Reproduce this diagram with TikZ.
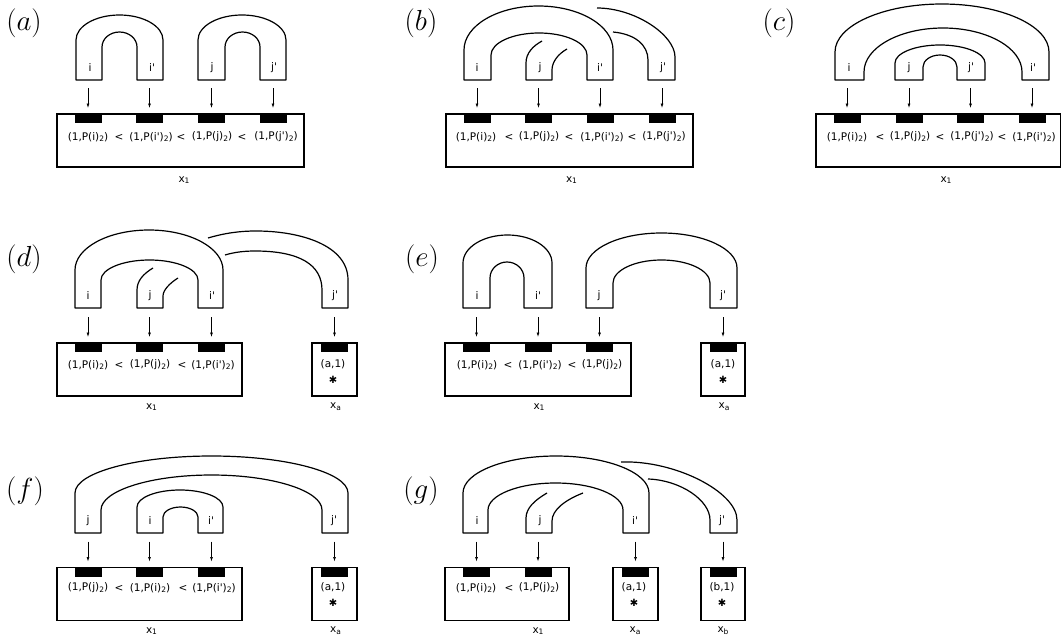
\RequirePackage{fix-cm}
\documentclass[tikz,border=0pt]{standalone}
\usepackage{fontspec}
\newfontfamily\dv{DejaVu Sans}
\usetikzlibrary{arrows.meta}
\def\bk{0.552}
% band: #1 Lo, #2 Li, #3 Ri, #4 Ro, #5 bottom, #6 outer straight top, #7 outer top, #8 inner straight top, #9 inner top
\newcommand\band[9]{%
  \pgfmathsetmacro\bMo{(#1+#4)/2}%
  \pgfmathsetmacro\bAo{(#4-#1)/2*\bk}%
  \pgfmathsetmacro\bBo{(#6-#7)*\bk}%
  \pgfmathsetmacro\bMi{(#2+#3)/2}%
  \pgfmathsetmacro\bAi{(#3-#2)/2*\bk}%
  \pgfmathsetmacro\bBi{(#8-#9)*\bk}%
  \path[bandst] (#1,#5) -- (#1,#6) .. controls (#1,#6-\bBo) and (\bMo-\bAo,#7) .. (\bMo,#7)
    .. controls (\bMo+\bAo,#7) and (#4,#6-\bBo) .. (#4,#6) -- (#4,#5) -- (#3,#5) -- (#3,#8)
    .. controls (#3,#8-\bBi) and (\bMi+\bAi,#9) .. (\bMi,#9)
    .. controls (\bMi-\bAi,#9) and (#2,#8-\bBi) .. (#2,#8) -- (#2,#5) -- cycle;}
\newcommand\subs[1]{\raisebox{-0.3ex}{\fontsize{7.5}{8}\selectfont #1}}
\newcommand\PP[1]{(1,P(#1)\subs{2})}
\begin{document}
\begin{tikzpicture}[x=1pt,y=-1pt,
  bandst/.style={draw=black, line width=1.2pt, fill=white, line join=round},
  strand/.style={draw=black, line width=1.2pt, line join=round},
  boxst/.style={draw=black, line width=1.3pt, inner sep=0pt, minimum height=53pt},
  slot/.style={fill=black, minimum width=27pt, minimum height=9pt, inner sep=0pt, anchor=north},
  arr/.style={-{Latex[length=4.5pt,width=3pt]}, line width=0.7pt},
  tl/.style={font={\dv\fontsize{10.5}{12}\selectfont}, inner sep=0pt},
  star/.style={font={\dv\fontsize{10}{11}\selectfont}, inner sep=0pt},
  plab/.style={font={\fontsize{29}{33}\selectfont}, anchor=base, inner sep=0pt}]
\useasboundingbox (0,0) rectangle (1062,642);

%% ---------------- (a)
\node[plab] (la) at (24,31) {$(a)$};
\band{76}{102}{137}{163}{80}{40}{15}{47}{32}
\band{198}{225}{260}{286}{80}{40}{15}{47}{32}
\node[tl] (a-i) at (90,68) {i};
\node[tl] (a-ip) at (152,68) {i'};
\node[tl] (a-j) at (212,68) {j};
\node[tl] (a-jp) at (274,68) {j'};
\node[boxst, minimum width=247pt] (aB) at (180.5,140.5) {};
\node[slot] (as1) at (88,114) {};
\node[slot] (as2) at (149.5,114) {};
\node[slot] (as3) at (211.5,114) {};
\node[slot] (as4) at (273,114) {};
\foreach \s in {as1,as2,as3,as4} \draw[arr] ([yshift=26pt]\s.north) -- ([yshift=6pt]\s.north);
\node[tl] (at1) at (88,137) {\PP{i}};
\node[tl] (ac1) at (119,137) {<};
\node[tl] (at2) at (151,137) {\PP{i'}};
\node[tl] (ac2) at (181,137) {<};
\node[tl] (at3) at (212,137) {\PP{j}};
\node[tl] (ac3) at (242,137) {<};
\node[tl] (at4) at (276,137) {\PP{j'}};
\node[tl] (ax) at (184,180) {x\subs{1}};

%% ---------------- (b)
\node[plab] (lb) at (421,31) {$(b)$};
\band{464}{491}{587}{613}{80}{50}{6}{55}{33}
\draw[strand] (542,41) .. controls (533,46) and (526,53) .. (526,63) -- (526,80) -- (552,80) -- (552,70) .. controls (552,62) and (558,54) .. (567,49);
\draw[strand] (597,8) .. controls (635,8) and (675,35) .. (675,57) -- (675,80) -- (648,80) -- (648,60) .. controls (648,45) and (635,34) .. (613,32);
\node[tl] (b-i) at (477,68) {i};
\node[tl] (b-j) at (540,68) {j};
\node[tl] (b-ip) at (600,68) {i'};
\node[tl] (b-jp) at (663,68) {j'};
\node[boxst, minimum width=247pt] (bB) at (569.5,140.5) {};
\node[slot] (bs1) at (477,114) {};
\node[slot] (bs2) at (538.5,114) {};
\node[slot] (bs3) at (600,114) {};
\node[slot] (bs4) at (662,114) {};
\foreach \s in {bs1,bs2,bs3,bs4} \draw[arr] ([yshift=26pt]\s.north) -- ([yshift=6pt]\s.north);
\node[tl] (bt1) at (476,137) {\PP{i}};
\node[tl] (bc1) at (509,137) {<};
\node[tl] (bt2) at (539,137) {\PP{j}};
\node[tl] (bc2) at (569,137) {<};
\node[tl] (bt3) at (602,137) {\PP{i'}};
\node[tl] (bc3) at (632,137) {<};
\node[tl] (bt4) at (664,137) {\PP{j'}};
\node[tl] (bx) at (571.5,180) {x\subs{1}};

%% ---------------- (c)
\node[plab] (lc) at (779,31) {$(c)$};
\band{835}{864}{1022}{1049}{80}{52}{4}{72}{28}
\band{895}{923}{957}{985}{80}{63}{45}{67}{55}
\node[tl] (c-i) at (849,68) {i};
\node[tl] (c-j) at (909,68) {j};
\node[tl] (c-jp) at (971,68) {j'};
\node[tl] (c-ip) at (1033,68) {i'};
\node[boxst, minimum width=244.5pt] (cB) at (938.25,140.5) {};
\node[slot] (cs1) at (847,114) {};
\node[slot] (cs2) at (909,114) {};
\node[slot] (cs3) at (970.5,114) {};
\node[slot] (cs4) at (1032,114) {};
\foreach \s in {cs1,cs2,cs3,cs4} \draw[arr] ([yshift=26pt]\s.north) -- ([yshift=6pt]\s.north);
\node[tl] (ct1) at (847,137) {\PP{i}};
\node[tl] (cc1) at (880,137) {<};
\node[tl] (ct2) at (910,137) {\PP{j}};
\node[tl] (cc2) at (940,137) {<};
\node[tl] (ct3) at (972,137) {\PP{j'}};
\node[tl] (cc3) at (1002,137) {<};
\node[tl] (ct4) at (1034,137) {\PP{i'}};
\node[tl] (cx) at (946,180) {x\subs{1}};

%% ---------------- (d)
\node[plab] (ld) at (24,266) {$(d)$};
\band{75}{101}{198}{223}{308}{270}{230}{280}{260}
\draw[strand] (153,268) .. controls (143,274) and (137,281) .. (137,290) -- (137,308) -- (163,308) -- (163,296) .. controls (163,290) and (170,283) .. (178,278);
\draw[strand] (208,238) .. controls (225,233) and (240,231) .. (256,231) .. controls (300,231) and (348,245) .. (348,280) -- (348,308) -- (322,308) -- (322,290) .. controls (322,265) and (300,251) .. (255,251) .. controls (245,251) and (235,252) .. (225,255);
\node[tl] (d-i) at (88,296) {i};
\node[tl] (d-j) at (150,296) {j};
\node[tl] (d-ip) at (212,296) {i'};
\node[tl] (d-jp) at (335,296) {j'};
\node[boxst, minimum width=185pt] (dB1) at (149.5,369.5) {};
\node[boxst, minimum width=45pt] (dB2) at (334.5,369.5) {};
\node[slot] (ds1) at (88,343) {};
\node[slot] (ds2) at (149.5,343) {};
\node[slot] (ds3) at (211.5,343) {};
\node[slot] (ds4) at (334.5,343) {};
\foreach \s in {ds1,ds2,ds3,ds4} \draw[arr] ([yshift=26pt]\s.north) -- ([yshift=6pt]\s.north);
\node[tl] (dt1) at (88,365) {\PP{i}};
\node[tl] (dc1) at (119,365) {<};
\node[tl] (dt2) at (150,365) {\PP{j}};
\node[tl] (dc2) at (182,365) {<};
\node[tl] (dt3) at (213,365) {\PP{i'}};
\node[tl] (dt4) at (333,364) {(a,1)};
\node[star] (dst) at (333,380) {✱};
\node[tl] (dx1) at (151.5,407) {x\subs{1}};
\node[tl] (dxa) at (335.5,407) {x\subs{a}};

%% ---------------- (e)
\node[plab] (le) at (422,266) {$(e)$};
\band{463}{490}{524}{552}{308}{263}{235}{278}{262}
\band{586}{613}{710}{737}{308}{268}{233}{283}{260}
\node[tl] (e-i) at (477,296) {i};
\node[tl] (e-ip) at (538,296) {i'};
\node[tl] (e-j) at (599,296) {j};
\node[tl] (e-jp) at (723,296) {j'};
\node[boxst, minimum width=186pt] (eB1) at (538,369.5) {};
\node[boxst, minimum width=44pt] (eB2) at (723,369.5) {};
\node[slot] (es1) at (476.5,343) {};
\node[slot] (es2) at (538,343) {};
\node[slot] (es3) at (599.5,343) {};
\node[slot] (es4) at (723,343) {};
\foreach \s in {es1,es2,es3,es4} \draw[arr] ([yshift=26pt]\s.north) -- ([yshift=6pt]\s.north);
\node[tl] (et1) at (477,365) {\PP{i}};
\node[tl] (ec1) at (508,365) {<};
\node[tl] (et2) at (540,365) {\PP{i'}};
\node[tl] (ec2) at (572,365) {<};
\node[tl] (et3) at (602,365) {\PP{j}};
\node[tl] (et4) at (723,364) {(a,1)};
\node[star] (est) at (723,380) {✱};
\node[tl] (ex1) at (539,407) {x\subs{1}};
\node[tl] (exa) at (724,407) {x\subs{a}};

%% ---------------- (f)
\node[plab] (lf) at (25,498) {$(f)$};
\band{75}{101}{322}{348}{533}{493}{456}{510}{475}
\band{137}{163}{198}{223}{533}{507}{490}{517}{507}
\node[tl] (f-j) at (88,521) {j};
\node[tl] (f-i) at (150,521) {i};
\node[tl] (f-ip) at (211,521) {i'};
\node[tl] (f-jp) at (334,521) {j'};
\node[boxst, minimum width=185pt] (fB1) at (149.5,594) {};
\node[boxst, minimum width=45pt] (fB2) at (334.5,594) {};
\node[slot] (fs1) at (88,567.5) {};
\node[slot] (fs2) at (149.5,567.5) {};
\node[slot] (fs3) at (211.5,567.5) {};
\node[slot] (fs4) at (334.5,567.5) {};
\foreach \s in {fs1,fs2,fs3,fs4} \draw[arr] ([yshift=26pt]\s.north) -- ([yshift=6pt]\s.north);
\node[tl] (ft1) at (88,588) {\PP{j}};
\node[tl] (fc1) at (119,588) {<};
\node[tl] (ft2) at (150,588) {\PP{i}};
\node[tl] (fc2) at (183,588) {<};
\node[tl] (ft3) at (214,588) {\PP{i'}};
\node[tl] (ft4) at (333,587) {(a,1)};
\node[star] (fst) at (333,603) {✱};
\node[tl] (fx1) at (151.5,631) {x\subs{1}};
\node[tl] (fxa) at (335.5,631) {x\subs{a}};

%% ---------------- (g)
\node[plab] (lg) at (421,498) {$(g)$};
\band{463}{488}{623}{649}{533}{493}{456}{510}{483}
\draw[strand] (547,493) .. controls (535,500) and (526,508) .. (526,518) -- (526,533) -- (552,533) -- (552,521) .. controls (552,510) and (565,500) .. (583,493);
\draw[strand] (621,462) .. controls (675,460) and (737,492) .. (737,520) -- (737,533) -- (710,533) -- (710,520) .. controls (710,500) and (680,480) .. (648,479);
\node[tl] (g-i) at (477,521) {i};
\node[tl] (g-j) at (540,521) {j};
\node[tl] (g-ip) at (635,521) {i'};
\node[tl] (g-jp) at (722,521) {j'};
\node[boxst, minimum width=124pt] (gB1) at (507,594) {};
\node[boxst, minimum width=45pt] (gB2) at (635.5,594) {};
\node[boxst, minimum width=44pt] (gB3) at (723,594) {};
\node[slot] (gs1) at (476.5,567.5) {};
\node[slot] (gs2) at (538,567.5) {};
\node[slot] (gs3) at (635.5,567.5) {};
\node[slot] (gs4) at (723,567.5) {};
\foreach \s in {gs1,gs2,gs3,gs4} \draw[arr] ([yshift=26pt]\s.north) -- ([yshift=6pt]\s.north);
\node[tl] (gt1) at (476,588) {\PP{i}};
\node[tl] (gc1) at (509,588) {<};
\node[tl] (gt2) at (539,588) {\PP{j}};
\node[tl] (gt3) at (634,587) {(a,1)};
\node[tl] (gt4) at (722,587) {(b,1)};
\node[star] (gst1) at (634,603) {✱};
\node[star] (gst2) at (722,603) {✱};
\node[tl] (gx1) at (538,631) {x\subs{1}};
\node[tl] (gxa) at (635,631) {x\subs{a}};
\node[tl] (gxb) at (723,631) {x\subs{b}};
\end{tikzpicture}
\end{document}
